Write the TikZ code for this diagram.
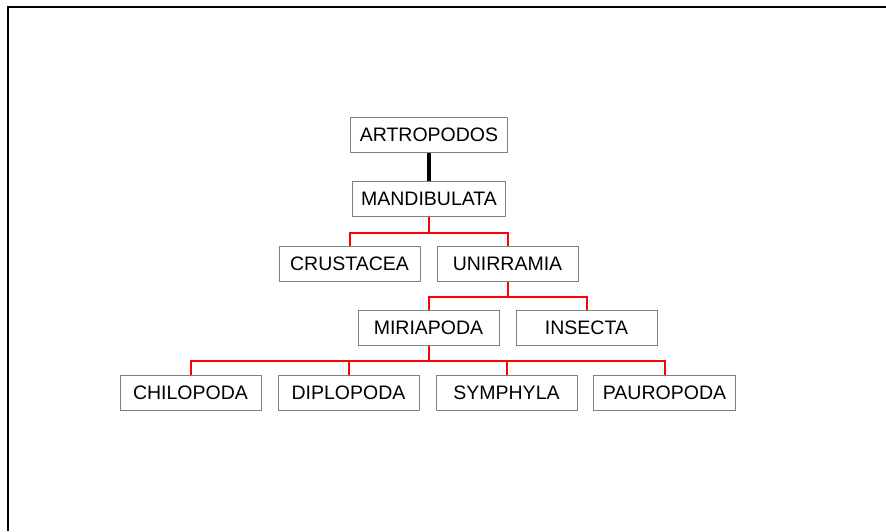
\documentclass[tikz,border=0pt]{standalone}
\usepackage{fontspec}
\setmainfont{Liberation Sans}
\usetikzlibrary{positioning}
\definecolor{boxgray}{HTML}{808080}

\begin{document}
\begin{tikzpicture}[x=1pt, y=-1pt,
  taxon/.style={draw=boxgray, line width=1pt, minimum width=141pt, minimum height=35pt,
    inner xsep=9pt, font=\fontsize{19.5}{22}\selectfont},
  branch/.style={red, line width=2pt}]
  \useasboundingbox (0,0) rectangle (886,531);
  % Rahmen
  \draw[line width=2pt] (886,7) -- (8,7) -- (8,531);

  % Ebenen
  \node[taxon] (artro) at (429,135) {ARTROPODOS};
  \node[taxon] (mandi) at (429,198.5) {MANDIBULATA};
  \node[taxon] (crust) at (349.5,263.5) {CRUSTACEA};
  \node[taxon] (unirr) at (507.5,263.5) {UNIRRAMIA};
  \node[taxon] (miria) at (428.5,328) {MIRIAPODA};
  \node[taxon] (insec) at (586.5,328) {INSECTA};
  \node[taxon] (chilo) at (190.5,392.5) {CHILOPODA};
  \node[taxon] (diplo) at (348.5,392.5) {DIPLOPODA};
  \node[taxon] (symph) at (506.5,392.5) {SYMPHYLA};
  \node[taxon] (pauro) at (664.5,392.5) {PAUROPODA};

  % Verbindungen
  \draw[line width=4pt] (artro) -- (mandi);
  \draw[branch] (mandi.south) -- ++(0,16) -| (crust.north);
  \draw[branch] (mandi.south) -- ++(0,16) -| (unirr.north);
  \draw[branch] (unirr.south) -- ++(0,15) -| (miria.north);
  \draw[branch] (unirr.south) -- ++(0,15) -| (insec.north);
  \foreach \t in {chilo, diplo, symph, pauro}
    \draw[branch] (miria.south) -- ++(0,15) -| (\t.north);
\end{tikzpicture}
\end{document}
